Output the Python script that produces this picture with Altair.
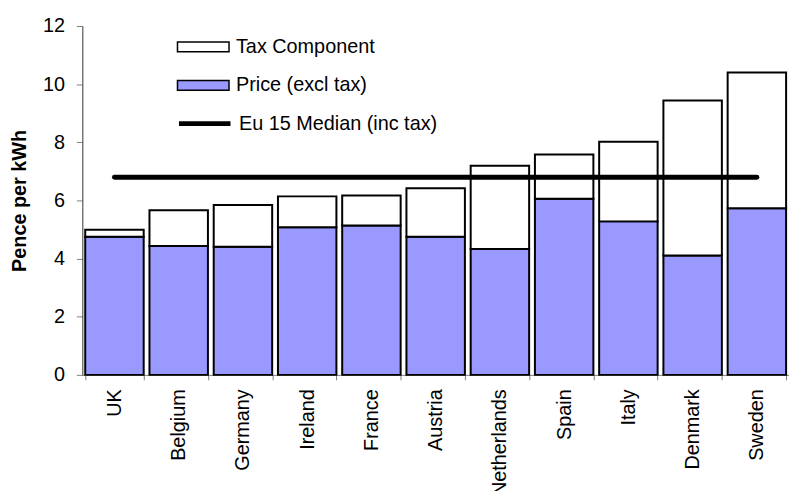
import altair as alt
import pandas as pd

countries = ["UK", "Belgium", "Germany", "Ireland", "France", "Austria",
             "Netherlands", "Spain", "Italy", "Denmark", "Sweden"]
price_excl_tax = [4.75, 4.43, 4.41, 5.08, 5.14, 4.75, 4.33, 6.06, 5.28, 4.11, 5.73]
total_inc_tax = [4.99, 5.66, 5.84, 6.14, 6.17, 6.42, 7.19, 7.58, 8.02, 9.44, 10.40]
eu15_median = 6.80

series_names = ["Tax Component", "Price (excl tax)", "Eu 15 Median (inc tax)"]
series_colors = ["#FFFFFF", "#9999FF", "#000000"]

df = pd.DataFrame({
    "country": countries,
    "price": price_excl_tax,
    "total": total_inc_tax,
    "median": [eu15_median] * len(countries),
})

FONT = "Liberation Sans"
RECT = "M-1,-0.19H1V0.19H-1Z"

x_enc = alt.X(
    "country:N", sort=countries, title=None,
    scale=alt.Scale(paddingInner=0.09, paddingOuter=0.045),
    axis=alt.Axis(labelAngle=-90, labelFontSize=20, labelColor="black",
                  tickBand="extent", tickSize=5, tickColor="#808080",
                  domainColor="#808080", labelPadding=9),
)
y_scale = alt.Scale(domain=[0, 12], nice=False)


def legend(x, y, sym):
    kw = dict(orient="none", legendX=x, legendY=y, title=None,
              labelFontSize=20, labelFont=FONT, labelColor="black",
              labelLimit=500,
              padding=0, labelOffset=6, symbolSize=2704, symbolOpacity=1)
    if sym == "line":
        kw.update(symbolType="stroke", symbolStrokeWidth=5,
                  symbolStrokeColor="black")
    else:
        kw.update(symbolType=RECT, symbolStrokeColor="black",
                  symbolStrokeWidth=1.5)
    return alt.Legend(**kw)


base = alt.Chart(df)

price_bars = base.mark_bar(stroke="black", strokeWidth=2, opacity=1).transform_calculate(
    series="'" + series_names[1] + "'"
).encode(
    x=x_enc,
    y=alt.Y("price:Q", scale=y_scale, title="Pence per kWh",
            axis=alt.Axis(values=[0, 2, 4, 6, 8, 10, 12], grid=False,
                          labelFontSize=20, labelColor="black", tickSize=6,
                          tickColor="#808080", domainColor="#333333",
                          labelPadding=12, titleFontSize=20, titleColor="black",
                          titleFontWeight="bold", titlePadding=13)),
    fill=alt.Fill("series:N",
                  scale=alt.Scale(domain=[series_names[1]], range=[series_colors[1]]),
                  legend=legend(95, 33, "rect")),
)

tax_bars = base.mark_bar(stroke="black", strokeWidth=2, opacity=1).transform_calculate(
    series="'" + series_names[0] + "'"
).encode(
    x=x_enc,
    y=alt.Y("total:Q", scale=y_scale),
    y2="price:Q",
    fill=alt.Fill("series:N",
                  scale=alt.Scale(domain=[series_names[0]], range=[series_colors[0]]),
                  legend=legend(95, -6, "rect")),
)

median_line = base.mark_line(strokeWidth=5, strokeCap="round").transform_calculate(
    series="'" + series_names[2] + "'"
).encode(
    x=x_enc,
    y=alt.Y("median:Q", scale=y_scale),
    stroke=alt.Stroke("series:N",
                      scale=alt.Scale(domain=[series_names[2]], range=[series_colors[2]]),
                      legend=legend(95, 70, "line")),
)

chart = alt.layer(price_bars, tax_bars, median_line).resolve_scale(
    fill="independent", stroke="independent"
).properties(
    width=713, height=352,
    autosize=alt.AutoSizeParams(type="none"),
    padding={"left": 75, "top": 16, "right": 0, "bottom": 115},
).configure(font=FONT).configure_view(stroke=None)

chart.save("out.html", embed_options={"renderer": "svg", "actions": False})
